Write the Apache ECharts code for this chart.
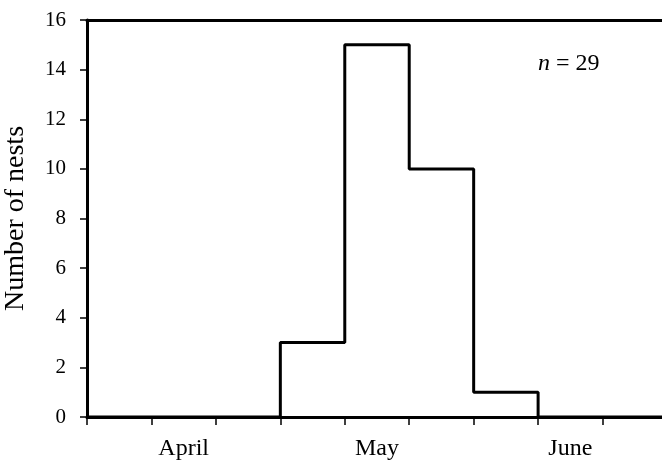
<!DOCTYPE html>
<html>
<head>
<meta charset="utf-8">
<script src="https://cdn.jsdelivr.net/npm/echarts@6/dist/echarts.min.js"></script>
<style>html,body{margin:0;padding:0;background:#fff}#c{width:662px;height:461px}</style>
</head>
<body>
<div id="c"></div>
<script>
// Histogram bins (each tick interval = one bin), left edges and counts
var binEdges = [0, 1, 2, 3, 4, 5, 6, 7, 8, 9];
var counts = [0, 0, 0, 3, 15, 10, 1, 0, 0];
var monthLabels = ['April', 'May', 'June'];
var yTicks = [0, 2, 4, 6, 8, 10, 12, 14, 16];
var sampleSize = 29;

var stepData = [];
for (var i = 0; i < counts.length; i++) stepData.push([binEdges[i], counts[i]]);
stepData.push([binEdges[binEdges.length - 1], counts[counts.length - 1]]);

var font = 'Liberation Serif';
var chart = echarts.init(document.getElementById('c'), null, {renderer: 'canvas'});
chart.setOption({
  animation: false,
  backgroundColor: '#fff',
  grid: {left: 87, right: -5, top: 20, bottom: 44, containLabel: false, outerBoundsMode: 'none'},
  xAxis: [
    {type: 'value', min: 0, max: 9, interval: 1, position: 'bottom',
      axisLine: {show: true, onZero: false, lineStyle: {color: '#000', width: 3}},
      axisTick: {show: true, inside: false, length: 8, lineStyle: {color: '#000', width: 1.5}},
      axisLabel: {show: false}, splitLine: {show: false}},
    {type: 'category', data: monthLabels, position: 'bottom', boundaryGap: true,
      axisLine: {show: false}, axisTick: {show: false}, splitLine: {show: false},
      axisLabel: {show: true, color: '#000', fontFamily: font, fontSize: 24, margin: 20}},
    {type: 'value', min: 0, max: 9, position: 'top',
      axisLine: {show: true, onZero: false, lineStyle: {color: '#000', width: 3}},
      axisTick: {show: false}, axisLabel: {show: false}, splitLine: {show: false}}
  ],
  yAxis: {
    type: 'value', min: yTicks[0], max: yTicks[yTicks.length - 1], interval: 2,
    name: 'Number of nests', nameLocation: 'middle', nameGap: 57, nameRotate: 90,
    nameTextStyle: {color: '#000', fontFamily: font, fontSize: 28},
    axisLine: {show: true, onZero: false, lineStyle: {color: '#000', width: 3}},
    axisTick: {show: true, inside: false, length: 7, lineStyle: {color: '#000', width: 1.5}},
    axisLabel: {color: '#000', fontFamily: font, fontSize: 21, margin: 21},
    splitLine: {show: false}
  },
  graphic: [{
    type: 'text', left: 538, top: 52,
    style: {
      text: '{i|n} = ' + sampleSize,
      rich: {i: {fontStyle: 'italic', fontFamily: font, fontSize: 24, fill: '#000'}},
      font: '24px "Liberation Serif"', fill: '#000'
    }
  }],
  series: [{
    type: 'line', xAxisIndex: 0, data: stepData, step: 'end', symbol: 'none',
    lineStyle: {color: '#000', width: 3}
  }]
});
</script>
</body>
</html>
